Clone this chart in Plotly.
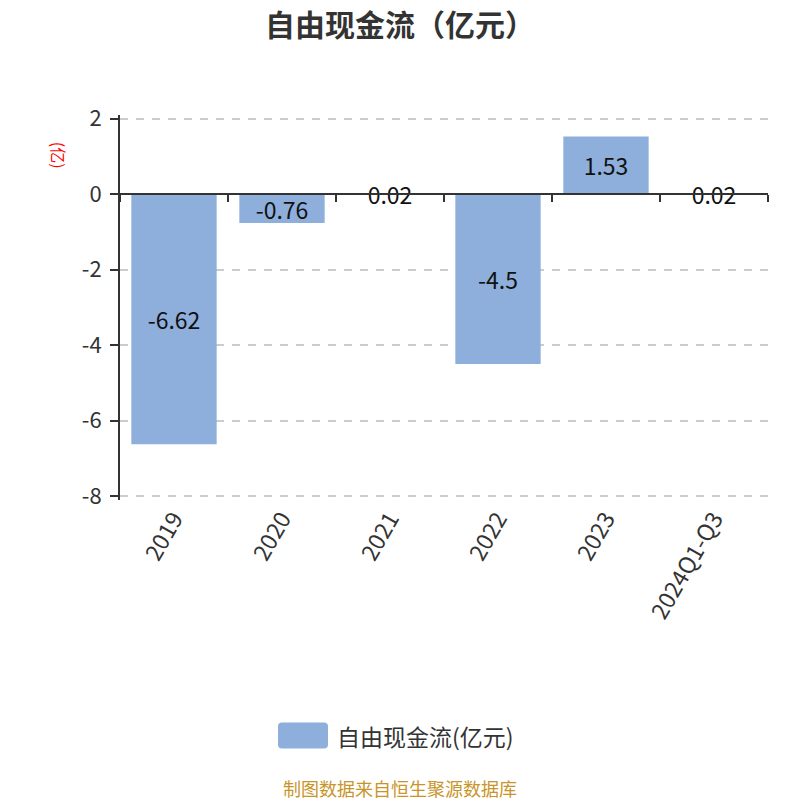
import plotly.graph_objects as go

categories = ["2019", "2020", "2021", "2022", "2023", "2024Q1-Q3"]
values = [-6.62, -0.76, 0.02, -4.5, 1.53, 0.02]
labels = ["-6.62", "-0.76", "0.02", "-4.5", "1.53", "0.02"]
series_name = "自由现金流(亿元)"
chart_title = "自由现金流（亿元）"
y_ticks = [-8, -6, -4, -2, 0, 2]
y_ticktext = ["-8", "-6", "-4", "-2", "0", "2"]

FONT = "Noto Sans CJK SC"
BAR_COLOR = "#8eaedb"
ymin, ymax = -8, 2
pad = 0.1  # small range padding so edge gridlines are drawn

# figure geometry (page has an 8px body offset)
W = H = 792
UNIT = 377 / (ymax - ymin)          # pixels per y unit
L, R = 112, 32
T = 111 - pad * UNIT
B = 304 - pad * UNIT
PW, PH = W - L - R, H - T - B


def px(page_x):
    return (page_x - 8 - L) / PW


def py(page_y):
    return (H - B - (page_y - 8)) / PH


fig = go.Figure()
fig.add_trace(go.Bar(
    x=categories, y=values, name=series_name, showlegend=False,
    marker=dict(color=BAR_COLOR, line=dict(width=0)),
    text=labels, textposition="inside", insidetextanchor="middle",
    textangle=0, constraintext="none",
    textfont=dict(color="#111111", size=23, family=FONT),
    hoverinfo="skip",
))
# helper trace so the zero-line axis is drawn
fig.add_trace(go.Scatter(
    x=categories, y=values, xaxis="x2", yaxis="y", mode="markers",
    marker=dict(opacity=0), showlegend=False, hoverinfo="skip",
))

zero_pos = (0 - (ymin - pad)) / ((ymax + pad) - (ymin - pad))

# custom legend: rounded swatch
x0, x1 = px(278), px(328)
y0, y1 = py(748), py(722)
rx, ry = 4 / PW, 4 / PH
path = (f"M {x0+rx},{y0} L {x1-rx},{y0} Q {x1},{y0} {x1},{y0+ry} "
        f"L {x1},{y1-ry} Q {x1},{y1} {x1-rx},{y1} L {x0+rx},{y1} "
        f"Q {x0},{y1} {x0},{y1-ry} L {x0},{y0+ry} Q {x0},{y0} {x0+rx},{y0} Z")

fig.update_layout(
    width=W, height=H,
    paper_bgcolor="white", plot_bgcolor="white",
    margin=dict(l=L, r=R, t=T, b=B, autoexpand=False),
    font=dict(family=FONT, color="#333333"),
    bargap=0.21,
    uniformtext=dict(mode="show", minsize=23),
    showlegend=False,
    xaxis=dict(
        type="category", showline=False, ticks="", showgrid=False,
        tickangle=-60, tickfont=dict(size=23, color="#333333"),
        zeroline=False,
    ),
    xaxis2=dict(
        type="category", overlaying="x", matches="x", anchor="free",
        position=zero_pos, showline=True, linecolor="#333333", linewidth=1.8,
        ticks="outside", tickson="boundaries", ticklen=7, tickwidth=1.8,
        tickcolor="#333333", showticklabels=False, showgrid=False,
    ),
    yaxis=dict(
        range=[ymin - pad, ymax + pad], tickvals=y_ticks, ticktext=y_ticktext,
        showline=True, linecolor="#333333",
        linewidth=1.8, ticks="outside", ticklen=8, tickwidth=1.8,
        tickcolor="#333333", showgrid=True, gridcolor="#cccccc",
        griddash="8px,8px", gridwidth=1.6, zeroline=False,
        tickfont=dict(size=22, color="#333333"), ticklabelstandoff=4,
    ),
    shapes=[dict(type="path", path=path, xref="paper", yref="paper",
                 fillcolor=BAR_COLOR, line=dict(width=0))],
    annotations=[
        dict(text=f"<b>{chart_title}</b>", xref="paper", yref="paper",
             x=px(400), xanchor="center", y=py(23), yanchor="middle",
             showarrow=False, font=dict(size=30, color="#333333", family=FONT)),
        dict(text=series_name, xref="paper", yref="paper",
             x=px(335), xanchor="left", y=py(735), yanchor="middle",
             showarrow=False, font=dict(size=23, color="#333333", family=FONT)),
        dict(text="(亿)", xref="paper", yref="paper",
             x=px(59), xanchor="center", y=py(155), yanchor="middle",
             textangle=90, showarrow=False,
             font=dict(size=16, color="red", family=FONT)),
        dict(text="制图数据来自恒生聚源数据库", xref="paper", yref="paper",
             x=px(400), xanchor="center", y=py(787), yanchor="middle",
             showarrow=False, font=dict(size=18, color="#c8952a", family=FONT)),
    ],
)

fig.write_html("out.html")
